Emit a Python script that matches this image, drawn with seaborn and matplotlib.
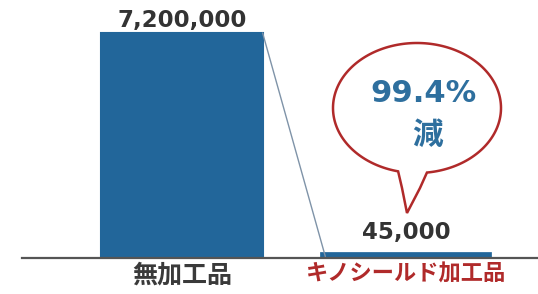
import matplotlib
matplotlib.use("Agg")
import matplotlib.pyplot as plt
import matplotlib.patches as mpatches
from matplotlib.path import Path
import numpy as np
import seaborn as sns

# data
categories = ["無加工品", "キノシールド加工品"]
values = [7200000, 45000]
reduction_label = "99.4%"
reduction_word = "減"

bar_color = "#22669a"
red = "#b02a2a"

sns.set_style("white")
plt.rcParams['font.family'] = ['DejaVu Sans', 'Noto Sans CJK JP']

W, H = 538, 294
fig = plt.figure(figsize=(W / 100, H / 100), dpi=100)
ax = fig.add_axes([22 / W, 36 / H, 1 - 22 / W, 258 / H])

bw = 0.72
sns.barplot(x=categories, y=values, color=bar_color, width=bw, ax=ax,
            edgecolor=bar_color, linewidth=1.5, saturation=1)
# the tiny bar is drawn with a heavier outline so it stays visible
ax.patches[1].set_linewidth(7)
ax.patches[1].set_joinstyle("miter")

ax.set_xlim(-(182 - 22) / 224, (W - 182) / 224)
ax.set_ylim(0, values[0] * 258 / 225)

# connector line between bar tops
ax.plot([0 + bw / 2, 1 - bw / 2], [values[0], values[1]], color="#7f93a8", lw=1)

# value labels
offsets = [1, 9]
for i, (v, off) in enumerate(zip(values, offsets)):
    ax.annotate(f"{v:,}", (i, v), xytext=(0, off), textcoords="offset points",
                ha="center", va="bottom", fontsize=16.5, fontweight="bold",
                color="#333333")

for s in ["top", "right", "left"]:
    ax.spines[s].set_visible(False)
ax.spines["bottom"].set_color("#555555")
ax.spines["bottom"].set_linewidth(1.6)
ax.spines["bottom"].set_zorder(4)
ax.set_yticks([])
ax.tick_params(axis="x", length=0, pad=4)
ax.set_xlabel("")
ax.set_ylabel("")
tl = ax.get_xticklabels()
tl[0].set_fontsize(18)
tl[0].set_color("#3a3a3a")
tl[0].set_fontweight("bold")
tl[1].set_fontsize(16)
tl[1].set_color(red)
tl[1].set_fontweight("bold")

# speech bubble (pixel coords, y down)
cx, cy, rx, ry = 417, 108, 84, 65
t0 = np.deg2rad(103)
t1 = np.deg2rad(83.2 + 360)
ts = np.linspace(t0, t1, 200)
pts = [(cx + rx * np.cos(t), cy + ry * np.sin(t)) for t in ts]
pts += [(420, 188), (407, 213), (402, 188)]
pts.append(pts[0])
pts = [(x / W, 1 - y / H) for x, y in pts]
codes = [Path.MOVETO] + [Path.LINETO] * (len(pts) - 2) + [Path.CLOSEPOLY]
bubble = mpatches.PathPatch(Path(pts, codes), facecolor="white", edgecolor=red,
                            lw=1.8, transform=fig.transFigure, zorder=5)
fig.patches.append(bubble)
fig.text(423 / W, 1 - 94 / H, reduction_label, ha="center", va="center",
         fontsize=22, fontweight="bold", color="#2e6f9e", zorder=6)
fig.text(427 / W, 1 - 135 / H, reduction_word, ha="center", va="center",
         fontsize=22, fontweight="bold", color="#2e6f9e", zorder=6,
         family=['Noto Sans CJK JP', 'DejaVu Sans'])

fig.savefig("out.png", dpi=100, facecolor="white")
